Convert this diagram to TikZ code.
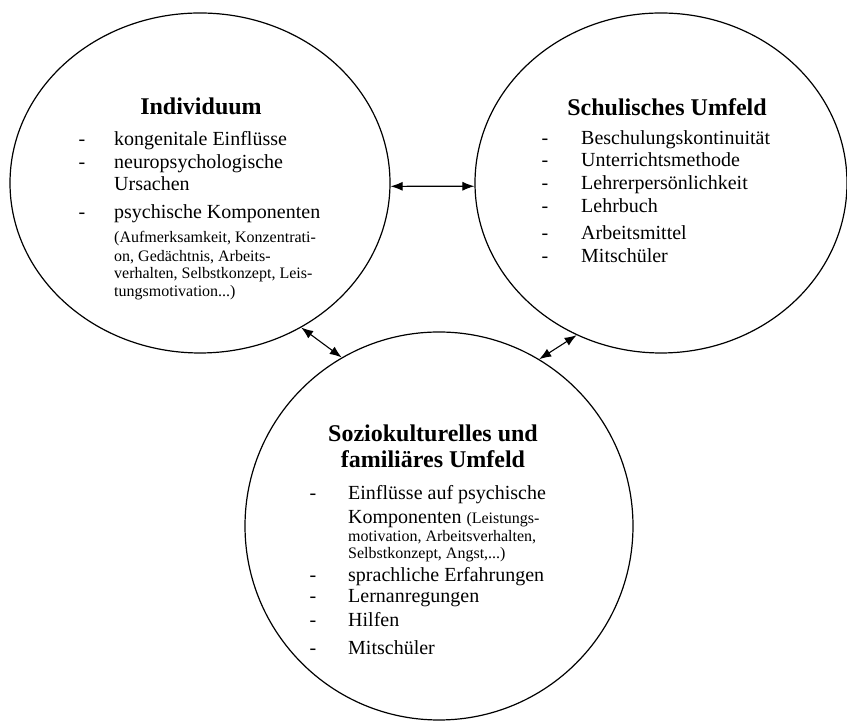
\documentclass[tikz,border=0pt]{standalone}
\usepackage{fontspec}
\setmainfont{Liberation Serif}
\usetikzlibrary{shapes,arrows.meta,positioning}

\newcommand{\klein}{\fontsize{16}{18}\selectfont}

\begin{document}
\begin{tikzpicture}[x=1pt,y=1pt,
    kreis/.style={ellipse,draw,line width=1.2pt,inner sep=0pt},
    titel/.style={anchor=base,inner sep=0pt,font=\fontsize{24}{29}\selectfont\bfseries},
    strich/.style={anchor=base,inner sep=0pt,font=\fontsize{20}{23}\selectfont},
    punkt/.style={anchor=base west,inner sep=0pt,font=\fontsize{20}{23}\selectfont},
    klein/.style={anchor=base west,inner sep=0pt,font=\klein},
    pfeil/.style={{Latex[length=12pt,width=9pt]}-{Latex[length=12pt,width=9pt]},line width=1.1pt}]
    \useasboundingbox (0,0) rectangle (847,722);

    % Kreise
    \node[kreis,minimum width=380pt,minimum height=340pt] (indiv) at (200,539) {};
    \node[kreis,minimum width=372pt,minimum height=340pt] (schule) at (661,539) {};
    \node[kreis,minimum width=388pt,minimum height=388pt] (sozio) at (439,196) {};

    % Individuum
    \node[titel] (indivtitel) at (201,607) {Individuum};
    \foreach \yy/\ds/\txt [count=\k] in {576/-/kongenitale Einflüsse, 553/-/neuropsychologische, 531/{}/Ursachen, 503/-/psychische Komponenten} {
        \node[strich] (ids\k) at (82,\yy) {\ds};
        \node[punkt] (idp\k) at (114,\yy) {\txt};
    }
    \foreach \yy/\txt [count=\k] in {479/{(Aufmerksamkeit, Konzentrati-}, 460/{on, Gedächtnis, Arbeits-}, 443/{verhalten, Selbstkonzept, Leis-}, 425/{tungsmotivation...)}} {
        \node[klein] (idk\k) at (114,\yy) {\txt};
    }

    % Schulisches Umfeld
    \node[titel] (schultitel) at (667,606) {Schulisches Umfeld};
    \foreach \yy/\txt [count=\k] in {577/Beschulungskontinuität, 555/Unterrichtsmethode, 532/Lehrerpersönlichkeit, 509/Lehrbuch, 482/Arbeitsmittel, 459/Mitschüler} {
        \node[strich] (sus\k) at (545,\yy) {-};
        \node[punkt] (sup\k) at (581,\yy) {\txt};
    }

    % Soziokulturelles und familiaeres Umfeld
    \node[titel] (sztitel1) at (433,280) {Soziokulturelles und};
    \node[titel] (sztitel2) at (433,254) {familiäres Umfeld};
    \foreach \yy/\ds/\txt [count=\k] in {222/-/Einflüsse auf psychische, 198/{}/{Komponenten {\klein (Leistungs-}}, 140/-/sprachliche Erfahrungen, 119/-/Lernanregungen, 95/-/Hilfen, 67/-/Mitschüler} {
        \node[strich] (szs\k) at (313,\yy) {\ds};
        \node[punkt] (szp\k) at (348,\yy) {\txt};
    }
    \foreach \yy/\txt [count=\k] in {180/{motivation, Arbeitsverhalten,}, 163/{Selbstkonzept, Angst,...)}} {
        \node[klein] (szk\k) at (348,\yy) {\txt};
    }

    % Verbindungen
    \draw[pfeil] (indiv.-1) -- (schule.181);
    \draw[pfeil] (indiv.-55) -- (sozio.120);
    \draw[pfeil] (sozio.59) -- (schule.241);
\end{tikzpicture}
\end{document}
